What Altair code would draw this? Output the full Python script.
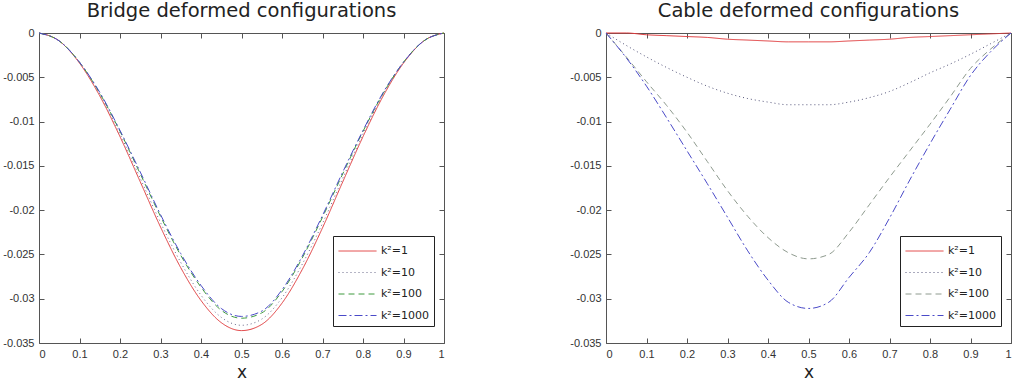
import altair as alt
import pandas as pd

# ---------------- data ----------------
x_vals = [0.0, 0.05, 0.1, 0.15, 0.2, 0.25, 0.3, 0.35, 0.4, 0.45, 0.5,
          0.55, 0.6, 0.65, 0.7, 0.75, 0.8, 0.85, 0.9, 0.95, 1.0]

series_labels = ["k²=1", "k²=10", "k²=100", "k²=1000"]

bridge_k1 = [0, -0.0009, -0.0034, -0.0071, -0.0117, -0.0168, -0.0219, -0.0265, -0.0302, -0.0327, -0.0336,
             -0.0329, -0.0305, -0.0267, -0.0220, -0.0168, -0.0117, -0.0071, -0.0034, -0.0009, 0]
bridge_k10 = [0, -0.0009, -0.0033, -0.0069, -0.0114, -0.0164, -0.0214, -0.0259, -0.0296, -0.0321, -0.0330,
              -0.0323, -0.0299, -0.0261, -0.0215, -0.0164, -0.0114, -0.0069, -0.0033, -0.0009, 0]
bridge_k100 = [0, -0.0009, -0.0033, -0.0068, -0.0111, -0.0159, -0.0207, -0.0251, -0.0287, -0.0313, -0.0322,
               -0.0316, -0.0292, -0.0254, -0.0208, -0.0159, -0.0111, -0.0068, -0.0033, -0.0009, 0]
bridge_k1000 = [0, -0.0009, -0.0033, -0.0067, -0.0110, -0.0157, -0.0205, -0.0249, -0.0285, -0.0311, -0.0320,
                -0.0314, -0.0290, -0.0252, -0.0206, -0.0157, -0.0110, -0.0067, -0.0033, -0.0009, 0]

cable_k1 = [0, 0, -0.0002, -0.0003, -0.0004, -0.0005, -0.0007, -0.0008, -0.0009, -0.0010, -0.0010,
            -0.0010, -0.0009, -0.0008, -0.0007, -0.0005, -0.0004, -0.0003, -0.0002, -0.0001, 0]
cable_k10 = [0, -0.0014, -0.0027, -0.0039, -0.0050, -0.0060, -0.0068, -0.0074, -0.0078, -0.0081, -0.0081,
             -0.0081, -0.0078, -0.0073, -0.0066, -0.0056, -0.0045, -0.0035, -0.0024, -0.0012, 0]
cable_k100 = [0, -0.0027, -0.0055, -0.0082, -0.0112, -0.0145, -0.0178, -0.0207, -0.0231, -0.0248, -0.0255,
              -0.0250, -0.0225, -0.0194, -0.0163, -0.0133, -0.0103, -0.0072, -0.0040, -0.0018, 0]
cable_k1000 = [0, -0.0028, -0.0060, -0.0096, -0.0133, -0.0170, -0.0208, -0.0246, -0.0279, -0.0304, -0.0311,
               -0.0304, -0.0276, -0.0248, -0.0209, -0.0166, -0.0125, -0.0086, -0.0048, -0.0021, 0]

x_ticks = [0, 0.1, 0.2, 0.3, 0.4, 0.5, 0.6, 0.7, 0.8, 0.9, 1]
y_ticks = [0, -0.005, -0.01, -0.015, -0.02, -0.025, -0.03, -0.035]

bridge_colors = ["#e0393b", "#6a6a8a", "#3f9a3f", "#4a4ac8"]
cable_colors = ["#e0393b", "#55557a", "#8e9a8e", "#4a4ac8"]
dashes = [[1, 0], [1, 3], [6, 4], [8, 3, 2, 3]]

W, H = 405, 310
FONT = "Liberation Sans"
WIDE = "DejaVu Sans"


def long_df(series):
    rows = []
    for lab, ys in zip(series_labels, series):
        for xv, yv in zip(x_vals, ys):
            rows.append({"x": xv, "y": yv, "series": lab})
    return pd.DataFrame(rows)


label_expr = "replace(format(datum.value, '~g'), '\u2212', '-')"


def panel(df, title, colors):
    base = alt.Chart(df)
    xs = alt.Scale(domain=[0, 1], nice=False, zero=False)
    ys = alt.Scale(domain=[-0.035, 0], nice=False, zero=False)
    leg = alt.Legend(
        orient="none", legendX=W - 111, legendY=203, title=None,
        strokeColor="#222", fillColor="white", padding=5,
        symbolType="M-1,0H3", symbolSize=361, symbolStrokeWidth=1,
        labelFont=WIDE, labelFontSize=11, labelColor="#222",
        labelOffset=23, rowPadding=6.5,
    )
    lines = base.mark_line(strokeWidth=1, interpolate="monotone").encode(
        x=alt.X("x:Q", scale=xs, axis=alt.Axis(
            values=x_ticks, labelExpr=label_expr, tickSize=0, domain=False, grid=False,
            labelFont=FONT, labelFontSize=11, labelColor="#333", labelPadding=5,
            title="x", titleFont=WIDE, titleFontSize=17, titleFontWeight="normal",
            titleColor="#222", titlePadding=5)),
        y=alt.Y("y:Q", scale=ys, axis=alt.Axis(
            values=y_ticks, labelExpr=label_expr, tickSize=0, domain=False, grid=False,
            labelFont=FONT, labelFontSize=11, labelColor="#333", labelPadding=5, title=None)),
        color=alt.Color("series:N", scale=alt.Scale(domain=series_labels, range=colors), legend=leg),
        strokeDash=alt.StrokeDash("series:N", scale=alt.Scale(domain=series_labels, range=dashes), legend=leg),
    )
    tick_ax = dict(tickSize=5, tickColor="#555", domain=False, grid=False, labels=False, title=None)
    ticks1 = base.mark_line(strokeOpacity=0).encode(
        x=alt.X("x:Q", scale=xs, axis=alt.Axis(values=x_ticks, orient="top", offset=-H, **tick_ax)),
        y=alt.Y("y:Q", scale=ys, axis=alt.Axis(values=y_ticks, orient="right", offset=-W, **tick_ax)),
        detail="series:N",
    )
    ticks2 = base.mark_line(strokeOpacity=0).encode(
        x=alt.X("x:Q", scale=xs, axis=alt.Axis(values=x_ticks, orient="bottom", offset=-H, **tick_ax)),
        y=alt.Y("y:Q", scale=ys, axis=alt.Axis(values=y_ticks, orient="left", offset=-W, **tick_ax)),
        detail="series:N",
    )
    return alt.layer(lines, ticks1, ticks2).resolve_axis(x="independent", y="independent").properties(
        width=W, height=H,
        title=alt.TitleParams(title, font=WIDE, fontSize=19.5, fontWeight="normal", color="#222", offset=6),
    )


left = panel(long_df([bridge_k1, bridge_k10, bridge_k100, bridge_k1000]),
             "Bridge deformed configurations", bridge_colors)
right = panel(long_df([cable_k1, cable_k10, cable_k100, cable_k1000]),
              "Cable deformed configurations", cable_colors)

chart = alt.hconcat(left, right, spacing=122).resolve_scale(
    color="independent", strokeDash="independent"
).resolve_legend(color="independent", strokeDash="independent").properties(
    padding={"left": 2, "top": 0, "right": 0, "bottom": 0},
    background="white",
).configure_view(stroke="#555", strokeWidth=1)

chart.save("out.html", embed_options={"renderer": "svg", "actions": False})
